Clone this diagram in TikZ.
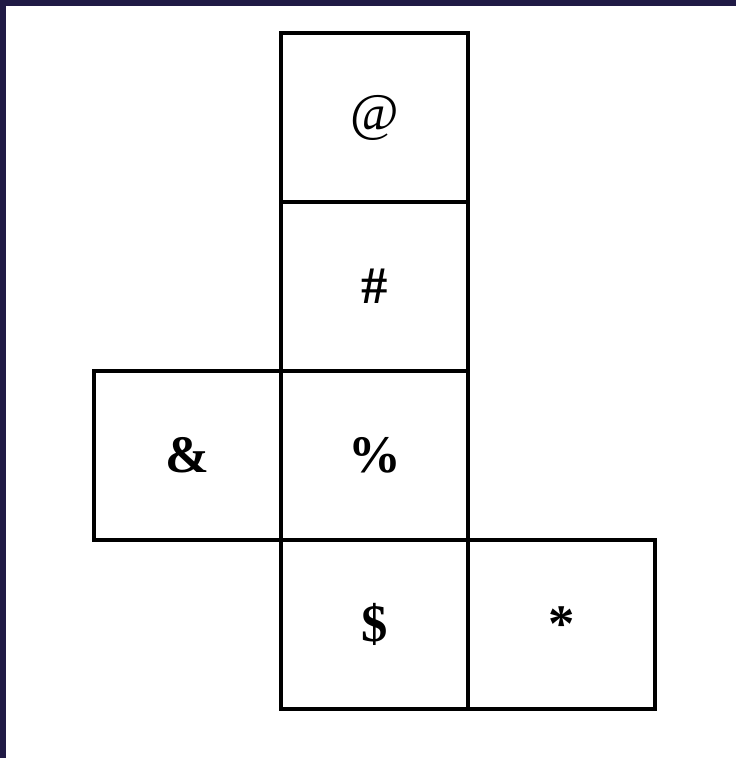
\documentclass[tikz,border=0pt]{standalone}
\usepackage{fontspec}
\setmainfont{Liberation Serif}
\usepackage{tikz}
\usetikzlibrary{positioning}

\definecolor{framenavy}{HTML}{201A45}

\begin{document}
\begin{tikzpicture}[
            every node/.style={font=\fontsize{15}{17}\selectfont\bfseries},
            face/.style={draw, line width=1.3pt, minimum width=1.87cm,
                minimum height=1.69cm, inner sep=0pt, outer sep=0pt}
        ]

        % page and frame
        \useasboundingbox (0,0) rectangle (7.36,7.58);
        \fill[white] (0,0) rectangle (7.36,7.58);
        \fill[framenavy] (0,7.52) rectangle (7.36,7.58);
        \fill[framenavy] (0,0) rectangle (0.06,7.58);

        \node[face] (at)     at (3.745,6.405) {\mdseries @};
        \node[face] (hash)   at (3.745,4.715) {\#};
        \node[face] (amp)    at (1.875,3.025) {\&};
        \node[face] (pct)    at (3.745,3.025) {\%};
        \node[face] (dollar) at (3.745,1.335) {\$};
        \node[face] (star)   at (5.615,1.335) {*};

    \end{tikzpicture}
\end{document}
